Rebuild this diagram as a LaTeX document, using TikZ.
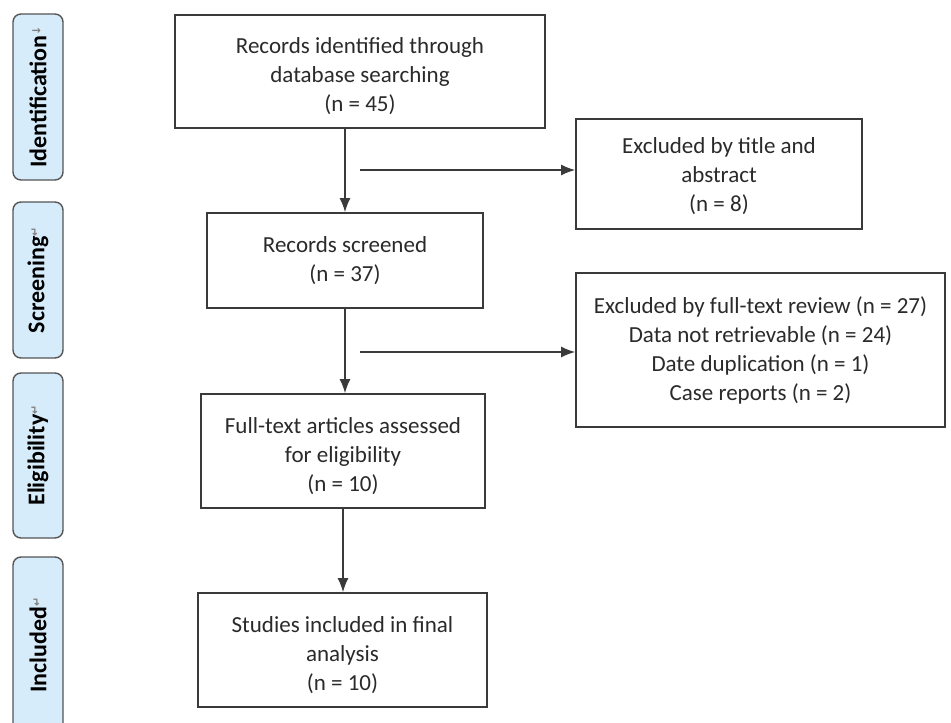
\documentclass[tikz,border=0pt]{standalone}
\usepackage{fontspec}
\setmainfont{Carlito}
\newfontfamily\dejavu{DejaVu Sans}
\usetikzlibrary{arrows.meta}
\definecolor{ln}{HTML}{3A3A3A}
\definecolor{tx}{HTML}{2A2A2A}
\definecolor{sidefill}{HTML}{D6ECFA}
\definecolor{sideline}{HTML}{555555}
\newcommand{\pmark}[1]{{\dejavu\fontsize{11}{11}\selectfont\color{gray}\raisebox{6pt}{#1}}}
\begin{document}
\begin{tikzpicture}[x=1pt,y=-1pt,
  box/.style={draw=ln,line width=1.6pt,fill=white,inner sep=0pt},
  txt/.style={align=center,inner sep=0pt,text=tx,font=\fontsize{23}{29}\selectfont},
  side/.style={draw=sideline,line width=1.4pt,fill=sidefill,rounded corners=8pt,rotate=90,inner sep=0pt,minimum height=50pt,font=\fontsize{24}{28}\selectfont\bfseries,text=black},
  arr/.style={draw=ln,line width=1.6pt,-{Latex[length=14pt,width=11pt]}}]
\useasboundingbox (0,0) rectangle (951,723);
\clip (0,0) rectangle (951,723);
% stage labels
\node[side,minimum width=166pt] (l1) at (38,97) {Identification\pmark{↓}};
\node[side,minimum width=156pt] (l2) at (38,280) {Screening\pmark{↵}};
\node[side,minimum width=165pt] (l3) at (38,455.5) {Eligibility\pmark{↵}};
\node[side,minimum width=176pt] (l4) at (38,645) {Included\pmark{↵}};
% boxes
\node[box,minimum width=370pt,minimum height=113pt] (id) at (360,71.5) {};
\node[txt] (idt) at ([yshift=-5pt]id.center) {Records identified through\\database searching\\(n = 45)};
\node[box,minimum width=286pt,minimum height=110pt] (ex1) at (719,174) {};
\node[txt] (ex1t) at ([yshift=-2pt]ex1.center) {Excluded by title and\\abstract\\(n = 8)};
\node[box,minimum width=276pt,minimum height=95pt] (scr) at (345,260.5) {};
\node[txt] (scrt) at (scr.center) {Records screened\\(n = 37)};
\node[box,minimum width=369pt,minimum height=154pt] (ex2) at (760.5,350) {};
\node[txt] (ex2t) at (ex2.center) {Excluded by full-text review (n = 27)\\Data not retrievable (n = 24)\\Date duplication (n = 1)\\Case reports (n = 2)};
\node[box,minimum width=284pt,minimum height=114pt] (ft) at (343,451) {};
\node[txt] (ftt) at ([yshift=-5pt]ft.center) {Full-text articles assessed\\for eligibility\\(n = 10)};
\node[box,minimum width=289pt,minimum height=114pt] (inc) at (342.5,650) {};
\node[txt] (inct) at ([yshift=-5pt]inc.center) {Studies included in final\\analysis\\(n = 10)};
% connectors
\draw[arr] (id.south -| scr.north) -- (scr.north);
\draw[arr] (scr.south) -- (scr.south |- ft.north);
\draw[arr] (ft.south) -- (ft.south |- inc.north);
\coordinate (s1) at (360,170);
\draw[arr] (s1) -- (s1 -| ex1.west);
\coordinate (s2) at (360,352);
\draw[arr] (s2) -- (s2 -| ex2.west);
\end{tikzpicture}
\end{document}
